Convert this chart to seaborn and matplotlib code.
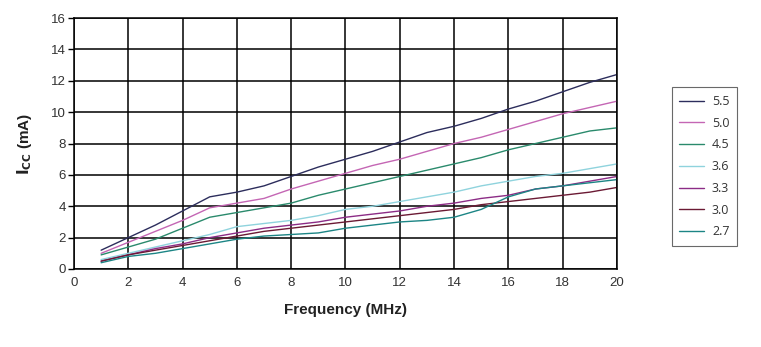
import numpy as np
import pandas as pd
import matplotlib
matplotlib.use("Agg")
import matplotlib.pyplot as plt
from matplotlib.lines import Line2D
import seaborn as sns

freq = [1, 2, 3, 4, 5, 6, 7, 8, 9, 10, 11, 12, 13, 14, 15, 16, 17, 18, 19, 20]
vcc_labels = ["5.5", "5.0", "4.5", "3.6", "3.3", "3.0", "2.7"]

icc_55 = [1.2, 2.0, 2.8, 3.7, 4.6, 4.9, 5.3, 5.9, 6.5, 7.0, 7.5, 8.1, 8.7, 9.1, 9.6, 10.2, 10.7, 11.3, 11.9, 12.4]
icc_50 = [1.0, 1.7, 2.4, 3.1, 3.9, 4.2, 4.5, 5.1, 5.6, 6.1, 6.6, 7.0, 7.5, 8.0, 8.4, 8.9, 9.4, 9.9, 10.3, 10.7]
icc_45 = [0.9, 1.4, 1.9, 2.6, 3.3, 3.6, 3.9, 4.2, 4.7, 5.1, 5.5, 5.9, 6.3, 6.7, 7.1, 7.6, 8.0, 8.4, 8.8, 9.0]
icc_36 = [0.6, 1.0, 1.4, 1.8, 2.2, 2.7, 2.9, 3.1, 3.4, 3.8, 4.0, 4.3, 4.6, 4.9, 5.3, 5.6, 5.9, 6.1, 6.4, 6.7]
icc_33 = [0.5, 0.9, 1.3, 1.6, 2.0, 2.3, 2.6, 2.8, 3.0, 3.3, 3.5, 3.7, 4.0, 4.2, 4.5, 4.7, 5.1, 5.3, 5.6, 5.9]
icc_30 = [0.5, 0.9, 1.2, 1.5, 1.8, 2.1, 2.4, 2.6, 2.8, 3.0, 3.2, 3.4, 3.6, 3.8, 4.1, 4.3, 4.5, 4.7, 4.9, 5.2]
icc_27 = [0.4, 0.8, 1.0, 1.3, 1.6, 1.9, 2.1, 2.2, 2.3, 2.6, 2.8, 3.0, 3.1, 3.3, 3.8, 4.6, 5.1, 5.3, 5.5, 5.7]

series = [icc_55, icc_50, icc_45, icc_36, icc_33, icc_30, icc_27]
colors = ["#2c2d5c", "#c466b4", "#2a8a6c", "#8fd3dd", "#8c2c86", "#6b1a34", "#1c8585"]

rows = []
for lab, vals in zip(vcc_labels, series):
    for f, v in zip(freq, vals):
        rows.append({"Frequency": f, "Icc": v, "Vcc": lab})
df = pd.DataFrame(rows)

sns.set_theme(style="white")
plt.rcParams["font.family"] = ["Liberation Sans", "DejaVu Sans"]

fig = plt.figure(figsize=(7.61, 3.47), dpi=100)
ax = fig.add_axes([0.0972, 0.2248, 0.7136, 0.7232])

sns.lineplot(data=df, x="Frequency", y="Icc", hue="Vcc", hue_order=vcc_labels,
             palette=dict(zip(vcc_labels, colors)), linewidth=1.0, ax=ax,
             legend=False)

ax.set_xlim(0, 20)
ax.set_ylim(0, 16)
ax.set_xticks(range(0, 21, 2))
ax.set_yticks(range(0, 17, 2))
ax.grid(True, color="black", linewidth=1.1)
for s in ax.spines.values():
    s.set_color("black")
    s.set_linewidth(1.1)
ax.tick_params(axis="y", left=True, direction="out", length=4, width=1, color="black",
               labelsize=9.5, labelcolor="#333333", pad=2)
ax.tick_params(axis="x", bottom=False, length=0, labelsize=9.5, labelcolor="#333333", pad=6)

ax.set_xlabel("Frequency (MHz)", fontsize=11, fontweight="bold", labelpad=10, color="#222222")
ax.set_ylabel(r"$\mathbf{I_{CC}}$ (mA)", fontsize=11, fontweight="bold", labelpad=12, color="#222222")

handles = [Line2D([0], [0], color=c, linewidth=1.0) for c in colors]
leg = fig.legend(handles, vcc_labels, loc="upper left",
                 bbox_to_anchor=(0.883, 0.748), frameon=True, fancybox=False,
                 handlelength=2.0, handletextpad=0.6,
                 labelspacing=0.7, borderpad=0.6, borderaxespad=0,
                 prop={"family": ["Open Sans", "DejaVu Sans"], "size": 9})
leg.get_frame().set_edgecolor("#444444")
leg.get_frame().set_linewidth(0.8)
for t in leg.get_texts():
    t.set_color("#333333")

fig.savefig("out.png", dpi=100)
